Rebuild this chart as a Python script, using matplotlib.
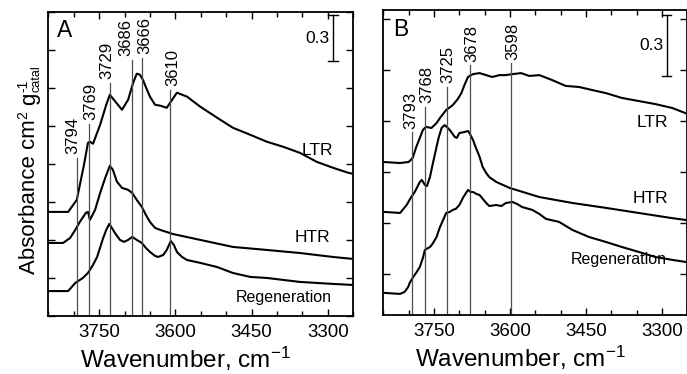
import numpy as np
import matplotlib
matplotlib.use("Agg")
import matplotlib.pyplot as plt
from matplotlib.ticker import MultipleLocator, NullFormatter

plt.rcParams['font.family'] = ['Liberation Sans', 'DejaVu Sans']
plt.rcParams['mathtext.fontset'] = 'custom'
plt.rcParams['mathtext.rm'] = 'Liberation Sans'
plt.rcParams['mathtext.it'] = 'Liberation Sans'
plt.rcParams['mathtext.default'] = 'regular'

# ---- panel A : spectra (wavenumber, absorbance) ----
a_ltr_wn = [3849, 3811, 3794, 3780, 3772, 3768, 3762, 3748, 3736, 3729, 3718, 3705, 3693,
            3683, 3676, 3670, 3664, 3656, 3650, 3640, 3630, 3617, 3609, 3597, 3587, 3577,
            3551, 3518, 3487, 3453, 3420, 3388, 3355, 3322, 3290, 3260, 3250]
a_ltr_ab = [0.684, 0.684, 0.763, 0.99, 1.138, 1.145, 1.132, 1.257, 1.388, 1.454, 1.408, 1.355, 1.421,
            1.533, 1.592, 1.586, 1.553, 1.487, 1.441, 1.388, 1.382, 1.368, 1.408, 1.467, 1.454, 1.441,
            1.375, 1.303, 1.237, 1.191, 1.145, 1.112, 1.072, 1.013, 0.974, 0.941, 0.934]

a_htr_wn = [3849, 3821, 3807, 3797, 3788, 3776, 3772, 3768, 3758, 3748, 3738, 3729, 3723, 3715,
            3705, 3693, 3685, 3676, 3666, 3658, 3650, 3640, 3630, 3605, 3551, 3487, 3420, 3355,
            3290, 3250]
a_htr_ab = [0.48, 0.48, 0.513, 0.566, 0.618, 0.678, 0.684, 0.632, 0.697, 0.809, 0.908, 0.987, 0.961, 0.882,
            0.842, 0.829, 0.809, 0.763, 0.717, 0.664, 0.618, 0.579, 0.566, 0.539, 0.5, 0.454, 0.434, 0.414,
            0.388, 0.375]

a_reg_wn = [3849, 3811, 3797, 3782, 3772, 3762, 3754, 3742, 3736, 3730, 3725, 3719, 3709, 3701,
            3693, 3685, 3676, 3666, 3658, 3650, 3640, 3634, 3624, 3617, 3609, 3603, 3597, 3587,
            3577, 3551, 3518, 3487, 3453, 3420, 3355, 3290, 3250]
a_reg_ab = [0.164, 0.164, 0.217, 0.25, 0.283, 0.336, 0.388, 0.513, 0.566, 0.605, 0.579, 0.546, 0.5, 0.487,
            0.5, 0.52, 0.5, 0.48, 0.447, 0.421, 0.395, 0.388, 0.401, 0.434, 0.493, 0.467, 0.421, 0.388,
            0.368, 0.349, 0.322, 0.283, 0.257, 0.25, 0.224, 0.211, 0.204]

a_peaks = [3794, 3769, 3729, 3686, 3666, 3610]
a_peak_tops = [1.04, 1.263, 1.533, 1.684, 1.697, 1.487]
a_label_shift = [-4, 1, -2.5, -6, 3, 3]   # px, label offset from its line

# ---- panel B ----
b_ltr_wn = [3850, 3817, 3800, 3792, 3785, 3778, 3772, 3766, 3755, 3745, 3737, 3726, 3713, 3703,
            3696, 3690, 3683, 3673, 3660, 3647, 3635, 3621, 3609, 3595, 3578, 3562, 3542, 3517,
            3490, 3464, 3438, 3411, 3379, 3346, 3313, 3280, 3254]
b_ltr_ab = [0.8, 0.795, 0.8, 0.82, 0.874, 0.918, 0.957, 0.972, 0.967, 0.991, 1.02, 1.055, 1.079, 1.109,
            1.138, 1.177, 1.217, 1.231, 1.236, 1.226, 1.217, 1.226, 1.226, 1.231, 1.236, 1.222, 1.226, 1.202,
            1.173, 1.168, 1.153, 1.138, 1.114, 1.099, 1.084, 1.065, 1.04]

b_htr_wn = [3848, 3817, 3804, 3796, 3788, 3778, 3774, 3768, 3764, 3758, 3753, 3745, 3741, 3735,
            3729, 3725, 3719, 3709, 3705, 3700, 3690, 3683, 3680, 3673, 3668, 3660, 3654, 3647,
            3641, 3627, 3601, 3542, 3477, 3411, 3346, 3281, 3254]
b_htr_ab = [0.555, 0.55, 0.589, 0.624, 0.653, 0.702, 0.712, 0.687, 0.682, 0.726, 0.785, 0.874, 0.918, 0.967,
            0.981, 0.972, 0.957, 0.923, 0.918, 0.942, 0.947, 0.952, 0.942, 0.908, 0.874, 0.825, 0.776, 0.746,
            0.726, 0.702, 0.673, 0.628, 0.599, 0.575, 0.55, 0.525, 0.516]

b_reg_wn = [3848, 3817, 3808, 3801, 3798, 3791, 3784, 3778, 3772, 3768, 3758, 3753, 3745, 3739,
            3732, 3726, 3719, 3713, 3707, 3700, 3692, 3683, 3678, 3673, 3666, 3660, 3652, 3647,
            3641, 3627, 3617, 3608, 3595, 3586, 3576, 3556, 3542, 3529, 3503, 3477, 3444, 3411,
            3379, 3346, 3313, 3280, 3254]
b_reg_ab = [0.158, 0.153, 0.163, 0.187, 0.207, 0.236, 0.261, 0.285, 0.329, 0.369, 0.383, 0.398, 0.432, 0.476,
            0.516, 0.55, 0.555, 0.565, 0.57, 0.589, 0.628, 0.663, 0.653, 0.653, 0.643, 0.638, 0.614, 0.599,
            0.584, 0.589, 0.584, 0.599, 0.604, 0.594, 0.579, 0.565, 0.545, 0.521, 0.506, 0.467, 0.432, 0.408,
            0.383, 0.359, 0.334, 0.32, 0.31]

b_peaks = [3793, 3768, 3725, 3678, 3598]
b_peak_tops = [0.947, 1.07, 1.168, 1.275, 1.285]
b_label_shift = [-1.5, 2, 1, 1, 1.5]

W, H = 687, 374
fig = plt.figure(figsize=(6.87, 3.74), dpi=100)
axA = fig.add_axes([0.0703, 0.155, 0.444, 0.814])
axB = fig.add_axes([0.558, 0.158, 0.4425, 0.815])


def style(ax, ylo, yhi):
    ax.set_xlim(3850, 3250)
    ax.set_ylim(ylo, yhi)
    ax.xaxis.set_major_locator(MultipleLocator(150))
    ax.xaxis.set_minor_locator(MultipleLocator(50))
    ax.yaxis.set_major_locator(MultipleLocator(0.25))
    ax.yaxis.set_major_formatter(NullFormatter())
    ax.tick_params(which='both', direction='in', top=True, right=True, width=1)
    ax.tick_params(which='major', length=5, labelsize=13.5, pad=5.5)
    ax.tick_params(which='minor', length=3.5)
    for s in ax.spines.values():
        s.set_linewidth(1.3)
    ax.set_xlabel('Wavenumber, cm$^{-1}$', fontsize=17.5, va='top')
    ax.xaxis.set_label_coords(0.45, -0.095)


def scalebar(ax, x, y0, y1):
    ax.plot([x, x], [y0, y1], color='k', lw=1)
    ax.plot([x - 9, x + 9], [y0, y0], color='k', lw=1)
    ax.plot([x - 9, x + 9], [y1, y1], color='k', lw=1)
    ax.text(x + 6, (y0 + y1) / 2, '0.3', ha='right', va='center', fontsize=12.5)


def peaks(ax, wn, tops, shifts, ybottom):
    for w, t, dx in zip(wn, tops, shifts):
        ax.plot([w, w], [ybottom, t], color='0.3', lw=0.9)
        ax.annotate(str(w), (w, t), xytext=(dx * 0.72, 2.5), textcoords='offset points',
                    rotation=90, ha='center', va='bottom', fontsize=12)


def vtext(px, py, s, size):
    # rotated piece of the y label, anchored at the start of its baseline (pixels)
    fig.text(px / W, 1 - py / H, s, fontsize=size, rotation=90, rotation_mode='anchor',
             ha='left', va='baseline')


# panel A
style(axA, 0, 2.0)
for wn, ab in [(a_ltr_wn, a_ltr_ab), (a_htr_wn, a_htr_ab), (a_reg_wn, a_reg_ab)]:
    axA.plot(wn, ab, color='k', lw=1.5)
peaks(axA, a_peaks, a_peak_tops, a_label_shift, 0)
scalebar(axA, 3290, 1.675, 1.975)
axA.text(3290, 1.09, 'LTR', ha='right', va='center', fontsize=12.5)
axA.text(3296, 0.513, 'HTR', ha='right', va='center', fontsize=12.5)
axA.text(3292, 0.125, 'Regeneration', ha='right', va='center', fontsize=11.5)
axA.text(0.03, 0.975, 'A', transform=axA.transAxes, ha='left', va='top', fontsize=16.5)

# y label: Absorbance cm^2 g^-1 (subscript catal)
vtext(35, 274, 'Absorbance cm', 16)
vtext(27, 119, '2', 10)
vtext(35, 105, 'g', 16)
vtext(27, 92, '-1', 10)
vtext(39.5, 92, 'catal', 9)

# panel B
style(axB, 0.05, 1.545)
for wn, ab in [(b_ltr_wn, b_ltr_ab), (b_htr_wn, b_htr_ab), (b_reg_wn, b_reg_ab)]:
    axB.plot(wn, ab, color='k', lw=1.5)
peaks(axB, b_peaks, b_peak_tops, b_label_shift, 0.05)
scalebar(axB, 3291, 1.22, 1.52)
axB.text(3287, 0.996, 'LTR', ha='right', va='center', fontsize=12.5)
axB.text(3287, 0.619, 'HTR', ha='right', va='center', fontsize=12.5)
axB.text(3291, 0.32, 'Regeneration', ha='right', va='center', fontsize=11.5)
axB.text(0.032, 0.975, 'B', transform=axB.transAxes, ha='left', va='top', fontsize=16.5)

fig.savefig('out.png', dpi=100)
